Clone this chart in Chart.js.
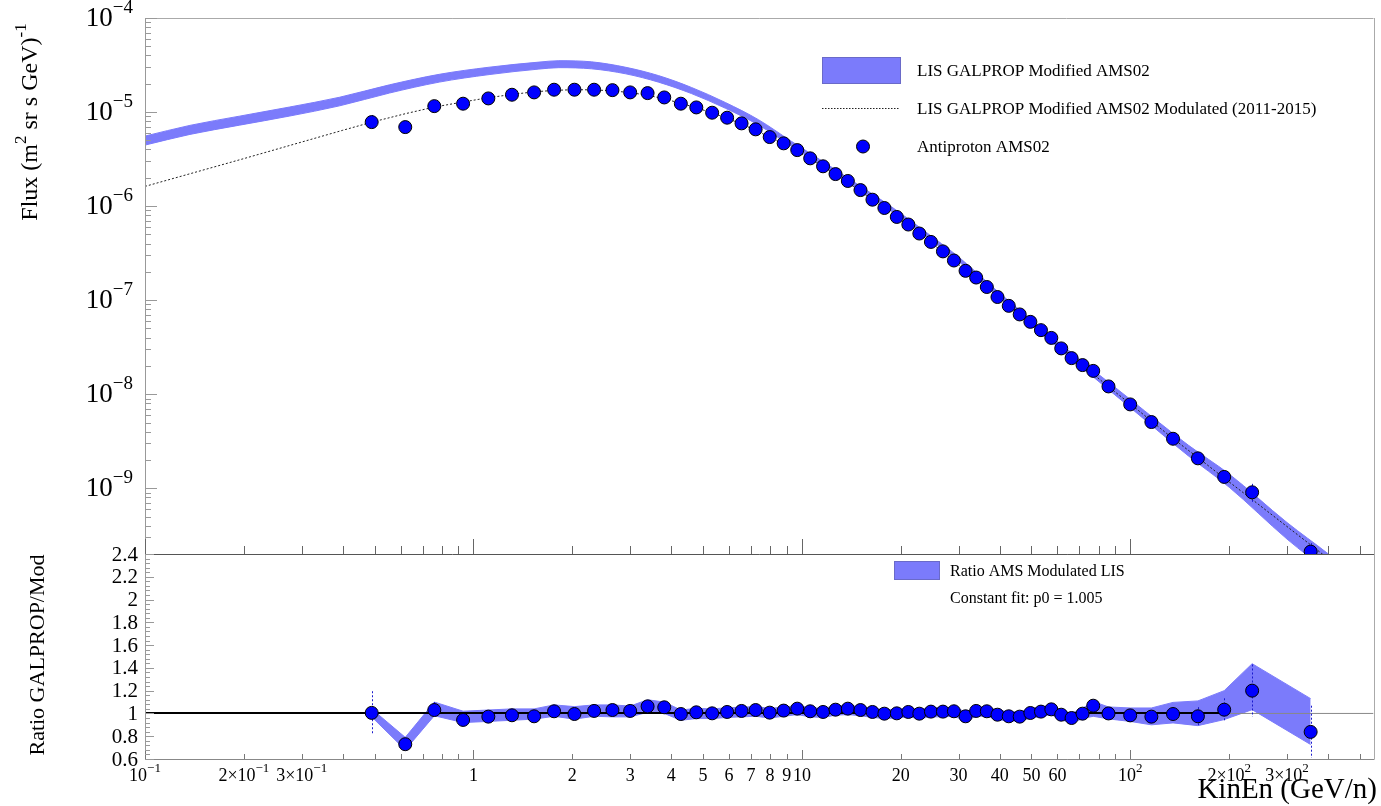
<!DOCTYPE html>
<html>
<head>
<meta charset="utf-8">
<script src="https://cdn.jsdelivr.net/npm/chart.js@4.4.1/dist/chart.umd.min.js"></script>
<style>
  body { margin: 0; background: #fff; }
  #wrap { position: relative; width: 1381px; height: 806px; }
  canvas { position: absolute; left: 0; top: 0; }
</style>
</head>
<body>
<div id="wrap">
  <canvas id="flux" width="1381" height="806"></canvas>
  <canvas id="ratio" width="1381" height="806"></canvas>
</div>
<script>
const FONT = '"Liberation Serif", "Times New Roman", serif';
const bandColor = '#7b7bfb';
const markerColor = '#0000ff';

// axis ranges
const xMin = 0.1, xMax = 550;
const fluxMin = 2e-10, fluxMax = 1e-4;
const ratioMin = 0.6, ratioMax = 2.4;

// AMS02 antiproton data (kinetic energy per nucleon, GeV/n)
const kinEn = [0.49, 0.62, 0.76, 0.93, 1.11, 1.31, 1.53, 1.76, 2.03, 2.33,
  2.65, 3.0, 3.39, 3.81, 4.28, 4.77, 5.33, 5.92, 6.55, 7.23,
  7.98, 8.80, 9.68, 10.6, 11.6, 12.66, 13.8, 15.08, 16.4, 17.83,
  19.45, 21.09, 22.78, 24.71, 26.88, 29.03, 31.5, 33.93, 36.56, 39.4,
  42.64, 46.04, 49.62, 53.44, 57.47, 61.6, 66.24, 71.54, 77.09, 85.8,
  99.9, 115.9, 134.9, 160.6, 193.1, 234.9, 354];
const flux = [7.82e-6, 6.92e-6, 1.156e-5, 1.227e-5, 1.396e-5, 1.528e-5, 1.618e-5, 1.728e-5, 1.728e-5, 1.728e-5,
  1.71e-5, 1.618e-5, 1.59e-5, 1.43e-5, 1.227e-5, 1.12e-5, 9.84e-6, 8.71e-6, 7.58e-6, 6.55e-6,
  5.42e-6, 4.65e-6, 3.94e-6, 3.22e-6, 2.65e-6, 2.19e-6, 1.85e-6, 1.48e-6, 1.17e-6, 9.55e-7,
  7.67e-7, 6.37e-7, 5.11e-7, 4.16e-7, 3.30e-7, 2.64e-7, 2.05e-7, 1.74e-7, 1.38e-7, 1.08e-7,
  8.7e-8, 7.05e-8, 5.88e-8, 4.80e-8, 3.97e-8, 3.07e-8, 2.42e-8, 2.04e-8, 1.77e-8, 1.21e-8,
  7.79e-9, 5.06e-9, 3.36e-9, 2.08e-9, 1.32e-9, 9.06e-10, 2.12e-10];

// ratio AMS / modulated LIS
const ratio = [1.005, 0.73, 1.03, 0.943, 0.972, 0.984, 0.975, 1.019, 0.995, 1.022,
  1.03, 1.022, 1.062, 1.054, 0.995, 1.01, 1.001, 1.013, 1.022, 1.03,
  1.007, 1.025, 1.042, 1.019, 1.013, 1.033, 1.042, 1.03, 1.013, 0.998,
  1.001, 1.013, 0.998, 1.016, 1.016, 1.019, 0.975, 1.022, 1.019, 0.989,
  0.975, 0.972, 1.004, 1.016, 1.036, 0.989, 0.96, 0.998, 1.068, 1.0,
  0.983, 0.972, 0.995, 0.975, 1.033, 1.2, 0.838];
const ratioErr = [0.19, 0.05, 0.07, 0.035, 0.035, 0.035, 0.03, 0.03, 0.03, 0.03,
  0.03, 0.03, 0.03, 0.03, 0.03, 0.03, 0.03, 0.03, 0.03, 0.03,
  0.03, 0.03, 0.03, 0.03, 0.03, 0.03, 0.03, 0.03, 0.03, 0.03,
  0.03, 0.03, 0.03, 0.03, 0.03, 0.03, 0.03, 0.03, 0.03, 0.03,
  0.03, 0.03, 0.03, 0.03, 0.035, 0.03, 0.03, 0.035, 0.04, 0.04,
  0.045, 0.05, 0.06, 0.08, 0.1, 0.23, 0.23];
const bandHi = [1.04, 0.79, 1.10, 1.02, 1.03, 1.04, 1.04, 1.075, 1.06, 1.075,
  1.075, 1.065, 1.12, 1.10, 1.03, 1.045, 1.04, 1.05, 1.055, 1.06,
  1.045, 1.055, 1.07, 1.05, 1.045, 1.065, 1.07, 1.06, 1.045, 1.035,
  1.035, 1.045, 1.035, 1.05, 1.05, 1.055, 1.015, 1.055, 1.055, 1.03,
  1.015, 1.015, 1.045, 1.055, 1.075, 1.03, 1.0, 1.045, 1.105, 1.057,
  1.048, 1.048, 1.097, 1.11, 1.2, 1.437, 1.13];
const bandLo = [0.97, 0.68, 0.98, 0.92, 0.93, 0.94, 0.95, 0.975, 0.95, 0.975,
  0.97, 0.97, 1.01, 1.0, 0.94, 0.955, 0.955, 0.965, 0.97, 0.975,
  0.96, 0.975, 0.99, 0.97, 0.965, 0.985, 0.99, 0.98, 0.965, 0.955,
  0.96, 0.97, 0.955, 0.97, 0.97, 0.975, 0.935, 0.975, 0.975, 0.945,
  0.935, 0.93, 0.96, 0.97, 0.99, 0.945, 0.915, 0.955, 0.975, 0.952,
  0.93, 0.90, 0.917, 0.893, 0.946, 1.033, 0.727];

// LIS GALPROP modified AMS02 (band)
const lisE = [0.1, 0.137, 0.194, 0.276, 0.391, 0.555, 0.787, 1.116, 1.583, 1.82,
  2.29, 2.91, 3.66, 4.61, 5.85, 7.37, 9.29, 11.78, 14.84, 18.68,
  23.7, 29.85, 40, 60, 100, 150, 200, 300, 400, 550];
const lisFlux = [5.0e-6, 6.5e-6, 8.15e-6, 1.02e-5, 1.3e-5, 1.77e-5, 2.3e-5, 2.75e-5, 3.13e-5, 3.24e-5,
  3.15e-5, 2.77e-5, 2.26e-5, 1.70e-5, 1.18e-5, 7.8e-6, 4.61e-6, 2.72e-6, 1.60e-6, 9.4e-7,
  5.1e-7, 2.77e-7, 1.12e-7, 3.4e-8, 8.0e-9, 2.55e-9, 1.22e-9, 3.6e-10, 1.65e-10, 6.5e-11];
const lisErr = [0.11, 0.11, 0.11, 0.11, 0.105, 0.1, 0.095, 0.09, 0.085, 0.085,
  0.085, 0.08, 0.08, 0.075, 0.07, 0.065, 0.06, 0.055, 0.055, 0.055,
  0.055, 0.055, 0.06, 0.07, 0.1, 0.13, 0.16, 0.2, 0.22, 0.25];

// modulated LIS (2011-2015)
const modE = [0.1, 0.2, 0.3, 0.4, 0.49, 0.62, 0.76, 0.93, 1.11, 1.31,
  1.53, 1.76, 2.03, 2.33, 2.65, 3.0, 3.39, 3.81, 4.28, 4.77,
  5.33, 5.92, 6.55, 7.23, 7.98, 8.80, 9.68, 10.6, 11.6, 12.66,
  13.8, 15.08, 16.4, 17.83, 19.45, 21.09, 22.78, 24.71, 26.88, 29.03,
  31.5, 33.93, 36.56, 39.4, 42.64, 46.04, 49.62, 53.44, 57.47, 61.6,
  66.24, 71.54, 77.09, 85.8, 99.9, 115.9, 134.9, 160.6, 193.1, 234.9, 354, 450];
const modFlux = [1.62e-6, 3.2e-6, 4.8e-6, 6.4e-6, 7.8e-6, 9.6e-6, 1.13e-5, 1.28e-5, 1.42e-5, 1.54e-5,
  1.64e-5, 1.70e-5, 1.73e-5, 1.72e-5, 1.68e-5, 1.61e-5, 1.51e-5, 1.38e-5, 1.24e-5, 1.11e-5,
  9.8e-6, 8.6e-6, 7.45e-6, 6.4e-6, 5.4e-6, 4.55e-6, 3.8e-6, 3.17e-6, 2.62e-6, 2.14e-6,
  1.77e-6, 1.44e-6, 1.16e-6, 9.5e-7, 7.65e-7, 6.25e-7, 5.1e-7, 4.1e-7, 3.25e-7, 2.6e-7,
  2.08e-7, 1.7e-7, 1.36e-7, 1.09e-7, 8.85e-8, 7.2e-8, 5.85e-8, 4.72e-8, 3.83e-8, 3.12e-8,
  2.5e-8, 2.02e-8, 1.64e-8, 1.2e-8, 7.9e-9, 5.2e-9, 3.37e-9, 2.12e-9, 1.28e-9, 7.6e-10, 2.5e-10, 1.3e-10];

// constant fit and reference line
const fitRange = [0.1, 193.1];
const fitP0 = [1.005, 1.005];
const unityRange = [xMin, xMax];
const unityLine = [1, 1];

// tick labels
const fluxLabelValues = [1e-9, 1e-8, 1e-7, 1e-6, 1e-5, 1e-4];
const fluxLabelTexts = ['10^-9', '10^-8', '10^-7', '10^-6', '10^-5', '10^-4'];
const ratioLabelValues = [0.6, 0.8, 1, 1.2, 1.4, 1.6, 1.8, 2, 2.2, 2.4];
const ratioLabelTexts = ['0.6', '0.8', '1', '1.2', '1.4', '1.6', '1.8', '2', '2.2', '2.4'];
const xLabelValues = [0.1, 0.2, 0.3, 1, 2, 3, 4, 5, 6, 7, 8, 9, 10, 20, 30, 40, 50, 60, 100, 200, 300];
const xLabelTexts = ['10^-1', '2×10^-1', '3×10^-1', '1', '2', '3', '4', '5', '6', '7', '8', '9', '10',
  '20', '30', '40', '50', '60', '10^2', '2×10^2', '3×10^2'];

const pts = (xs, ys) => xs.map((x, i) => ({ x: x, y: ys[i] }));

// tick positions k*10^n inside a range
function logTicks(min, max) {
  const out = [];
  for (let n = Math.floor(Math.log10(min)); n <= Math.ceil(Math.log10(max)); n++) {
    for (let k = 1; k <= 9; k++) {
      const v = k * Math.pow(10, n);
      if (v >= min * 0.999 && v <= max * 1.001) out.push({ v: v, major: k === 1 });
    }
  }
  return out;
}

// text with superscript part after '^'
function drawSupText(ctx, text, x, y, size, align) {
  const parts = text.split('^');
  const base = parts[0];
  const exp = parts[1] ? parts[1].replace('-', '\u2212') : '';
  const es = Math.round(size * 0.7);
  ctx.font = size + 'px ' + FONT;
  const wb = ctx.measureText(base).width;
  ctx.font = es + 'px ' + FONT;
  const we = exp ? ctx.measureText(exp).width : 0;
  const w = wb + we;
  let x0 = x;
  if (align === 'right') x0 = x - w;
  if (align === 'center') x0 = x - w / 2;
  ctx.textAlign = 'left';
  ctx.textBaseline = 'middle';
  ctx.font = size + 'px ' + FONT;
  ctx.fillText(base, x0, y);
  if (exp) {
    ctx.font = es + 'px ' + FONT;
    ctx.fillText(exp, x0 + wb, y - size * 0.4);
  }
}

// segments: [text, isSup]
function drawRich(ctx, segs, x, y, size) {
  const es = Math.round(size * 0.7);
  let w = 0;
  segs.forEach(s => { ctx.font = (s[1] ? es : size) + 'px ' + FONT; w += ctx.measureText(s[0]).width; });
  let cx = x - w / 2;
  ctx.textAlign = 'left';
  ctx.textBaseline = 'middle';
  segs.forEach(s => {
    ctx.font = (s[1] ? es : size) + 'px ' + FONT;
    ctx.fillText(s[0], cx, s[1] ? y - size * 0.4 : y);
    cx += ctx.measureText(s[0]).width;
  });
}

function hline(ctx, x1, x2, y, color) {
  ctx.strokeStyle = color;
  ctx.beginPath(); ctx.moveTo(x1, Math.round(y) + 0.5); ctx.lineTo(x2, Math.round(y) + 0.5); ctx.stroke();
}
function vline(ctx, x, y1, y2, color) {
  ctx.strokeStyle = color;
  ctx.beginPath(); ctx.moveTo(Math.round(x) + 0.5, y1); ctx.lineTo(Math.round(x) + 0.5, y2); ctx.stroke();
}

function drawErrorBars(chart, lo, hi) {
  const { ctx, chartArea: a } = chart;
  const xs = chart.scales.x, yScale = chart.scales.y;
  ctx.save();
  ctx.beginPath(); ctx.rect(a.left, a.top, a.right - a.left, a.bottom - a.top); ctx.clip();
  ctx.strokeStyle = '#1a1acc';
  ctx.lineWidth = 1;
  ctx.setLineDash([2, 2]);
  kinEn.forEach((e, i) => {
    const px = Math.round(xs.getPixelForValue(e)) + 0.5;
    ctx.beginPath();
    ctx.moveTo(px, yScale.getPixelForValue(hi(i)));
    ctx.lineTo(px, yScale.getPixelForValue(lo(i)));
    ctx.stroke();
  });
  ctx.restore();
}

const fluxDecor = {
  id: 'fluxDecor',
  beforeDatasetDraw(chart, args) {
    if (args.index !== 0) return;
    drawErrorBars(chart, i => flux[i] * (1 - ratioErr[i]), i => flux[i] * (1 + ratioErr[i]));
  },
  afterDraw(chart) {
    const { ctx, chartArea: a } = chart;
    const xs = chart.scales.x, ys = chart.scales.y;
    ctx.save();
    ctx.lineWidth = 1;
    // frame
    hline(ctx, a.left, a.right, a.top, '#aaa');
    vline(ctx, a.right, a.top, a.bottom, '#aaa');
    vline(ctx, a.left, a.top, a.bottom, '#999');
    hline(ctx, a.left, a.right + 1, a.bottom, '#555');
    // x ticks (no labels on this pad)
    logTicks(xMin, xMax).forEach(t => {
      const px = xs.getPixelForValue(t.v);
      vline(ctx, px, a.bottom, a.bottom - (t.major ? 15 : 8), '#666');
    });
    // y ticks
    logTicks(fluxMin, fluxMax).forEach(t => {
      const py = ys.getPixelForValue(t.v);
      hline(ctx, a.left, a.left + (t.major ? 12 : 6), py, '#999');
    });
    ctx.fillStyle = '#000';
    fluxLabelValues.forEach((v, i) => {
      drawSupText(ctx, fluxLabelTexts[i], 133, ys.getPixelForValue(v) + 1, 27, 'right');
    });
    // y title
    ctx.save();
    ctx.translate(31, 122);
    ctx.rotate(-Math.PI / 2);
    drawRich(ctx, [['Flux (m', false], ['2', true], [' sr s GeV)', false], ['-1', true]], 0, 0, 24);
    ctx.restore();
    // legend
    ctx.fillStyle = bandColor;
    ctx.fillRect(822, 57, 79, 27);
    ctx.strokeStyle = '#6a6ac8';
    ctx.strokeRect(822.5, 57.5, 78, 26);
    ctx.strokeStyle = '#222';
    ctx.setLineDash([1.5, 1.5]);
    ctx.beginPath(); ctx.moveTo(822, 108.5); ctx.lineTo(900, 108.5); ctx.stroke();
    ctx.setLineDash([]);
    ctx.beginPath(); ctx.arc(863, 146.5, 6.5, 0, Math.PI * 2);
    ctx.fillStyle = markerColor; ctx.fill();
    ctx.strokeStyle = '#000'; ctx.stroke();
    ctx.fillStyle = '#000';
    ctx.font = '17px ' + FONT;
    ctx.textAlign = 'left';
    ctx.textBaseline = 'middle';
    ctx.fillText('LIS GALPROP Modified AMS02', 917, 72);
    ctx.fillText('LIS GALPROP Modified AMS02 Modulated (2011-2015)', 917, 110);
    ctx.fillText('Antiproton AMS02', 917, 148);
    ctx.restore();
  }
};

const ratioDecor = {
  id: 'ratioDecor',
  beforeDatasetDraw(chart, args) {
    if (args.index !== 0) return;
    drawErrorBars(chart, i => ratio[i] - ratioErr[i], i => ratio[i] + ratioErr[i]);
  },
  afterDraw(chart) {
    const { ctx, chartArea: a } = chart;
    const xs = chart.scales.x, ys = chart.scales.y;
    ctx.save();
    ctx.lineWidth = 1;
    vline(ctx, a.right, a.top, a.bottom, '#aaa');
    vline(ctx, a.left, a.top, a.bottom, '#999');
    hline(ctx, a.left, a.right + 1, a.bottom, '#888');
    // x ticks
    logTicks(xMin, xMax).forEach(t => {
      const px = xs.getPixelForValue(t.v);
      vline(ctx, px, a.bottom, a.bottom - (t.major ? 9 : 5), '#777');
    });
    // y ticks every 0.04, major every 0.2
    for (let k = 0; k <= 45; k++) {
      const py = ys.getPixelForValue(ratioMin + k * 0.04);
      hline(ctx, a.left, a.left + (k % 5 === 0 ? 9 : 5), py, '#999');
    }
    ctx.fillStyle = '#000';
    ratioLabelValues.forEach((v, i) => {
      ctx.font = '21px ' + FONT;
      ctx.textAlign = 'right';
      ctx.textBaseline = 'middle';
      ctx.fillText(ratioLabelTexts[i], 138, ys.getPixelForValue(v) + 1);
    });
    xLabelValues.forEach((v, i) => {
      drawSupText(ctx, xLabelTexts[i], xs.getPixelForValue(v), a.bottom + 17, 18, 'center');
    });
    // axis titles
    ctx.save();
    ctx.translate(38, 655);
    ctx.rotate(-Math.PI / 2);
    drawRich(ctx, [['Ratio GALPROP/Mod', false]], 0, 0, 22);
    ctx.restore();
    ctx.font = '29px ' + FONT;
    ctx.textAlign = 'right';
    ctx.textBaseline = 'alphabetic';
    ctx.fillText('KinEn (GeV/n)', 1377, 798);
    // legend
    ctx.fillStyle = bandColor;
    ctx.fillRect(894, 561, 46, 19);
    ctx.strokeStyle = '#6a6ac8';
    ctx.strokeRect(894.5, 561.5, 45, 18);
    ctx.fillStyle = '#000';
    ctx.font = '16px ' + FONT;
    ctx.textAlign = 'left';
    ctx.textBaseline = 'middle';
    ctx.fillText('Ratio AMS Modulated LIS', 950, 572);
    ctx.fillText('Constant fit: p0 = 1.005', 950, 599);
    ctx.restore();
  }
};

const common = {
  responsive: false,
  animation: false,
  events: [],
  devicePixelRatio: 1,
  plugins: { legend: { display: false }, tooltip: { enabled: false } }
};

const markerStyle = {
  showLine: false,
  pointRadius: 6.5,
  pointBackgroundColor: markerColor,
  pointBorderColor: '#000',
  pointBorderWidth: 1,
  order: 0
};

new Chart(document.getElementById('flux'), {
  type: 'line',
  data: {
    datasets: [
      Object.assign({ label: 'Antiproton AMS02', data: pts(kinEn, flux) }, markerStyle),
      {
        label: 'LIS GALPROP Modified AMS02 Modulated (2011-2015)',
        data: pts(modE, modFlux),
        borderColor: '#222', borderWidth: 1, borderDash: [2, 2],
        pointRadius: 0, fill: false, order: 1
      },
      {
        label: 'LIS GALPROP Modified AMS02',
        data: pts(lisE, lisFlux.map((f, i) => f * (1 + lisErr[i]))),
        borderColor: bandColor, borderWidth: 1, backgroundColor: bandColor,
        pointRadius: 0, fill: '+1', cubicInterpolationMode: 'monotone', order: 2
      },
      {
        label: 'LIS low',
        data: pts(lisE, lisFlux.map((f, i) => f * (1 - lisErr[i]))),
        borderColor: bandColor, borderWidth: 1,
        pointRadius: 0, fill: false, cubicInterpolationMode: 'monotone', order: 2
      }
    ]
  },
  options: Object.assign({}, common, {
    layout: { padding: { left: 145, top: 18, right: 4, bottom: 252 } },
    scales: {
      x: { type: 'logarithmic', min: xMin, max: xMax, display: false },
      y: { type: 'logarithmic', min: fluxMin, max: fluxMax, display: false }
    }
  }),
  plugins: [fluxDecor]
});

new Chart(document.getElementById('ratio'), {
  type: 'line',
  data: {
    datasets: [
      Object.assign({ label: 'Ratio', data: pts(kinEn, ratio) }, markerStyle),
      {
        label: 'Constant fit',
        data: pts(fitRange, fitP0),
        borderColor: '#000', borderWidth: 2, pointRadius: 0, fill: false, order: 1
      },
      {
        label: 'Unity',
        data: pts(unityRange, unityLine),
        borderColor: '#888', borderWidth: 1, pointRadius: 0, fill: false, order: 2
      },
      {
        label: 'Ratio AMS Modulated LIS',
        data: pts(kinEn, bandHi),
        borderColor: bandColor, borderWidth: 1, backgroundColor: bandColor,
        pointRadius: 0, fill: '+1', order: 3
      },
      {
        label: 'band low',
        data: pts(kinEn, bandLo),
        borderColor: bandColor, borderWidth: 1,
        pointRadius: 0, fill: false, order: 3
      }
    ]
  },
  options: Object.assign({}, common, {
    layout: { padding: { left: 145, top: 554, right: 4, bottom: 47 } },
    scales: {
      x: { type: 'logarithmic', min: xMin, max: xMax, display: false },
      y: { type: 'linear', min: ratioMin, max: ratioMax, display: false }
    }
  }),
  plugins: [ratioDecor]
});
</script>
</body>
</html>
